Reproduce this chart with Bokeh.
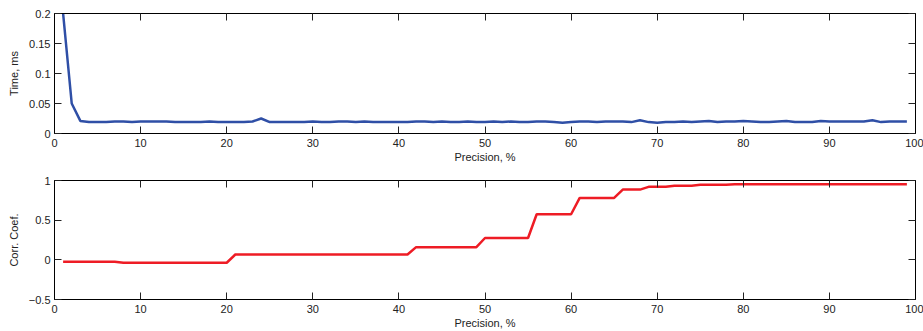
from bokeh.plotting import figure
from bokeh.layouts import column
from bokeh.models import LinearAxis, FixedTicker, Range1d, CustomJSTickFormatter
from bokeh.embed import file_html
from bokeh.resources import INLINE

precision = list(range(1, 100))

time_ms = [
    0.200, 0.050, 0.021, 0.019, 0.019, 0.019, 0.020, 0.020, 0.019, 0.020,
    0.020, 0.020, 0.020, 0.019, 0.019, 0.019, 0.019, 0.020, 0.019, 0.019,
    0.019, 0.019, 0.020, 0.025, 0.019, 0.019, 0.019, 0.019, 0.019, 0.020,
    0.019, 0.019, 0.020, 0.020, 0.019, 0.020, 0.019, 0.019, 0.019, 0.019,
    0.019, 0.020, 0.020, 0.019, 0.020, 0.019, 0.019, 0.020, 0.019, 0.019,
    0.020, 0.019, 0.020, 0.019, 0.019, 0.020, 0.020, 0.019, 0.018, 0.019,
    0.020, 0.020, 0.019, 0.020, 0.020, 0.020, 0.019, 0.022, 0.019, 0.018,
    0.019, 0.019, 0.020, 0.019, 0.020, 0.021, 0.019, 0.020, 0.020, 0.021,
    0.020, 0.019, 0.019, 0.020, 0.021, 0.019, 0.019, 0.019, 0.021, 0.020,
    0.020, 0.020, 0.020, 0.020, 0.022, 0.019, 0.020, 0.020, 0.020,
]

corr_coef = (
    [-0.025] * 7 +      # 1-7
    [-0.037] * 13 +     # 8-20
    [0.067] * 21 +      # 21-41
    [0.16] * 8 +        # 42-49
    [0.275] * 6 +       # 50-55
    [0.575] * 5 +       # 56-60
    [0.78] * 5 +        # 61-65
    [0.885] * 3 +       # 66-68
    [0.92] * 3 +        # 69-71
    [0.935] * 3 +       # 72-74
    [0.945] * 4 +       # 75-78
    [0.952] * 21        # 79-99
)

x_ticks = [0, 10, 20, 30, 40, 50, 60, 70, 80, 90, 100]
time_ticks = [0, 0.05, 0.1, 0.15, 0.2]
corr_ticks = [-0.5, 0, 0.5, 1]

FONT = "Liberation Sans"
fmt = CustomJSTickFormatter(code="var s = String(Math.round(tick*1000)/1000); return s.replace('-', '\u2212');")
blank = CustomJSTickFormatter(code="return '';")


def style_axis(ax, labels=True):
    ax.major_tick_in = 7
    ax.major_tick_out = 0
    ax.minor_tick_in = 0
    ax.minor_tick_out = 0
    ax.axis_line_color = "black"
    ax.axis_line_width = 1
    ax.major_tick_line_color = "#222222"
    ax.major_label_text_font = FONT
    ax.major_label_text_font_size = "11px"
    ax.major_label_text_color = "#222222"
    ax.axis_label_text_font = FONT
    ax.axis_label_text_font_size = "11px"
    ax.axis_label_text_font_style = "normal"
    ax.axis_label_text_color = "#222222"
    if not labels:
        ax.formatter = blank
        ax.major_label_standoff = 0
        ax.axis_label = None


def make_fig(height, top, bottom, yr, yticks, ylabel, ys, color):
    p = figure(width=923, height=height, output_backend="svg", toolbar_location=None,
               x_range=Range1d(0, 100), y_range=Range1d(*yr),
               min_border_left=54, min_border_right=8, min_border_top=top,
               min_border_bottom=bottom, x_axis_label="Precision, %",
               y_axis_label=ylabel)
    p.xgrid.visible = False
    p.ygrid.visible = False
    p.outline_line_color = "black"
    p.outline_line_width = 1
    p.background_fill_color = "white"
    p.border_fill_color = "white"
    p.xaxis.ticker = FixedTicker(ticks=x_ticks)
    p.yaxis.ticker = FixedTicker(ticks=yticks)
    p.yaxis.formatter = fmt
    for ax in p.xaxis:
        style_axis(ax)
        ax.major_label_standoff = 5
        ax.axis_label_standoff = 1
    for ax in p.yaxis:
        style_axis(ax)
        ax.major_label_standoff = 4
        ax.axis_label_standoff = 6
    top_ax = LinearAxis(ticker=FixedTicker(ticks=x_ticks))
    style_axis(top_ax, labels=False)
    p.add_layout(top_ax, "above")
    right_ax = LinearAxis(ticker=FixedTicker(ticks=yticks))
    style_axis(right_ax, labels=False)
    p.add_layout(right_ax, "right")
    p.line(precision, ys, line_color=color, line_width=2.5)
    return p


p1 = make_fig(165, 13, 32, (0, 0.2), time_ticks, "Time, ms", time_ms, "#2f4fa6")
p2 = make_fig(166, 15, 31, (-0.5, 1), corr_ticks, "Corr. Coef.", corr_coef, "#ee1c25")

layout = column(p1, p2, spacing=0)
open("out.html", "w").write(file_html(layout, INLINE))
